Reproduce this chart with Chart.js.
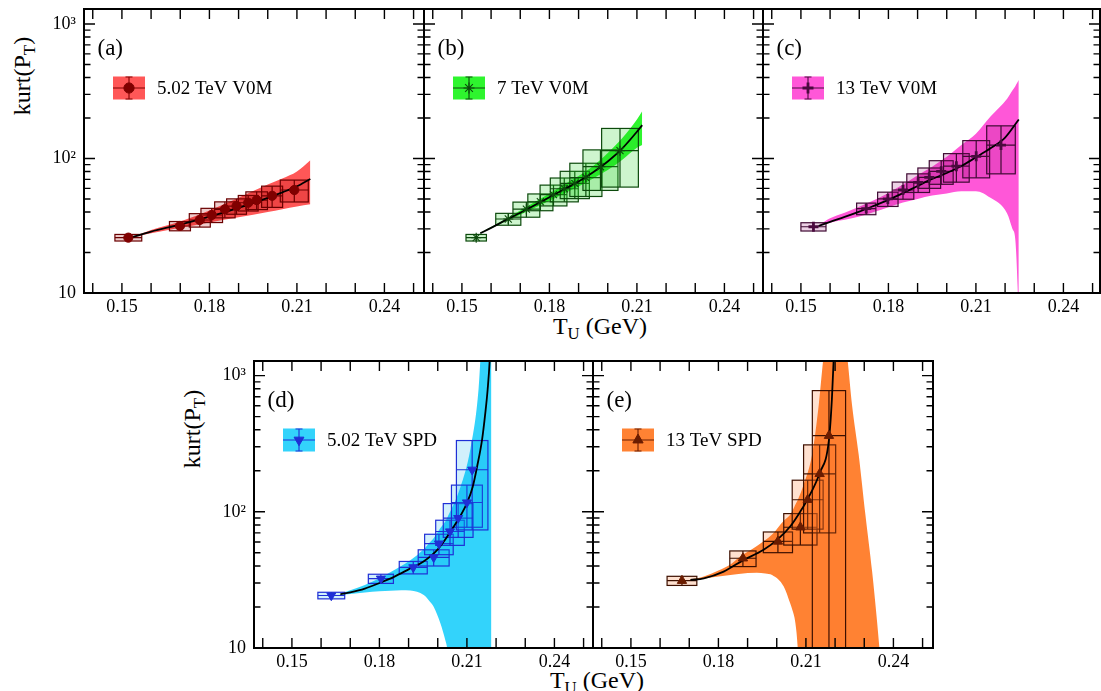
<!DOCTYPE html>
<html><head><meta charset="utf-8">
<script src="https://cdn.jsdelivr.net/npm/chart.js@4.4.0/dist/chart.umd.min.js"></script>
<style>
html,body{margin:0;padding:0;background:#fff;}
body{width:1101px;height:691px;position:relative;overflow:hidden;font-family:'Liberation Serif','Times New Roman',serif;}
canvas{position:absolute;}
.t{position:absolute;font-size:24px;color:#000;white-space:nowrap;line-height:1;}
.t sub{font-size:70%;vertical-align:baseline;position:relative;top:0.32em;}
</style></head><body>
<div class="t" style="left:22px;top:76px;transform:translate(-50%,-50%) rotate(-90deg);">kurt(P<sub>T</sub>)</div>
<div class="t" style="left:192px;top:429px;transform:translate(-50%,-50%) rotate(-90deg);">kurt(P<sub>T</sub>)</div>
<div class="t" style="left:600px;top:326px;transform:translate(-50%,-50%);">T<sub>U</sub> (GeV)</div>
<div class="t" style="left:597px;top:680px;transform:translate(-50%,-50%);">T<sub>U</sub> (GeV)</div>
<script>
// ---------------- data ----------------
const xTickLabels = [0.15, 0.18, 0.21, 0.24];
const xTickMarks = [0.14, 0.15, 0.16, 0.17, 0.18, 0.19, 0.20, 0.21, 0.22, 0.23, 0.24, 0.25];
const yTickLabels = [10, 100, 1000];
const yTickText = ['10', '10\u00B2', '10\u00B3'];

// (a) 5.02 TeV V0M
const aX = [0.1522, 0.1699, 0.1767, 0.1808, 0.1853, 0.1893, 0.1933, 0.1962, 0.2015, 0.2091];
const aY = [25.8, 31.5, 34.9, 38.0, 41.9, 44.3, 46.9, 49.1, 52.8, 58.3];
const aSysX = [0.0046, 0.0036, 0.0036, 0.0037, 0.0035, 0.0034, 0.0034, 0.0037, 0.0036, 0.0048];
const aSysY = [1.45, 2.5, 4.0, 4.6, 5.7, 5.8, 6.2, 7.4, 9.5, 10.8];
const aCurveX = [0.1535, 0.16, 0.17, 0.18, 0.19, 0.20, 0.205, 0.21, 0.2146];
const aCurveY = [26.0, 28.6, 32.3, 37.0, 43.0, 51.0, 56.0, 62.0, 70.5];
const aBandX = [0.1535, 0.16, 0.17, 0.18, 0.19, 0.20, 0.205, 0.21, 0.2146];
const aBandUp = [26.1, 29.4, 34.0, 41.0, 51.0, 64.0, 71.0, 80.0, 97.0];
const aBandLo = [25.9, 27.8, 30.5, 33.5, 36.5, 40.0, 42.0, 44.0, 45.6];

// (b) 7 TeV V0M
const bX = [0.1549, 0.1659, 0.1721, 0.1769, 0.1814, 0.1851, 0.1887, 0.1925, 0.1975, 0.2042];
const bY = [25.8, 35.5, 42.0, 47.7, 53.9, 59.6, 65.3, 72.2, 86.9, 114.3];
const bSysX = [0.0035, 0.0043, 0.0046, 0.0043, 0.0046, 0.0048, 0.0050, 0.0055, 0.0060, 0.0063];
const bSysY = [1.45, 3.6, 5.4, 6.8, 9.5, 12, 15, 20, 29, 53];
const bCurveX = [0.1563, 0.16, 0.165, 0.17, 0.175, 0.18, 0.185, 0.19, 0.195, 0.20, 0.205, 0.21, 0.2118];
const bCurveY = [27.8, 30.5, 34.8, 39.5, 45.0, 51.5, 59.0, 67.5, 79.0, 95.0, 119, 158, 177];
const bBandX = [0.1563, 0.165, 0.17, 0.175, 0.18, 0.185, 0.19, 0.195, 0.20, 0.205, 0.21, 0.2118];
const bBandUp = [28.0, 35.5, 41.0, 47.5, 55.0, 64.0, 74.0, 88.0, 110, 142, 195, 225];
const bBandLo = [27.6, 34.2, 38.2, 43.0, 48.5, 55.0, 62.0, 71.0, 82.0, 98.0, 120, 126];

// (c) 13 TeV V0M
const cX = [0.1543, 0.1724, 0.1798, 0.1850, 0.1902, 0.1940, 0.1981, 0.2033, 0.2101, 0.2186];
const cY = [31.1, 42.4, 50.1, 58.3, 66.4, 72.5, 80.3, 87.7, 103.8, 125.9];
const cSysX = [0.0043, 0.0033, 0.0035, 0.0037, 0.0039, 0.0039, 0.0041, 0.0044, 0.0046, 0.0049];
const cSysY = [2.2, 4.2, 6.1, 8.5, 10.5, 12.5, 16, 21, 32, 49];
const cCurveX = [0.156, 0.16, 0.165, 0.17, 0.175, 0.18, 0.185, 0.19, 0.195, 0.20, 0.205, 0.21, 0.215, 0.22, 0.2247];
const cCurveY = [31.5, 33.8, 36.8, 40.3, 44.5, 49.3, 55.3, 62.5, 70.5, 78.0, 88.0, 102, 119, 143, 195];
const cBandX = [0.156, 0.16, 0.165, 0.17, 0.175, 0.18, 0.185, 0.19, 0.195, 0.20, 0.205, 0.21, 0.215, 0.2207, 0.2225, 0.2235, 0.2243, 0.2247];
const cBandUp = [31.7, 35.9, 39.5, 43.8, 49.0, 55.5, 64.0, 75.0, 87.0, 103, 126, 153, 205, 278, 320, 345, 370, 383];
const cBandLo = [31.3, 33.3, 35.0, 37.0, 40.0, 43.5, 47.0, 50.0, 53.0, 55.0, 57.0, 57.2, 51.0, 39.0, 30.0, 25.0, 11.0, 5.0];

// (d) 5.02 TeV SPD
const dX = [0.1635, 0.1805, 0.1916, 0.1986, 0.2004, 0.2042, 0.2070, 0.2100, 0.2118];
const dY = [24.3, 32.3, 39.1, 46.3, 58.4, 71.7, 89.9, 117, 203.6];
const dSysX = [0.0046, 0.0043, 0.0048, 0.0053, 0.0049, 0.0049, 0.0051, 0.0053, 0.0054];
const dSysY = [1.35, 2.5, 4.1, 6.3, 10, 15, 25, 40, 130];
const dCurveX = [0.1666, 0.17, 0.175, 0.18, 0.185, 0.19, 0.195, 0.20, 0.205, 0.21, 0.212, 0.2135, 0.2152, 0.2163, 0.2171, 0.2178, 0.2183];
const dCurveY = [24.8, 25.6, 27.3, 30.0, 33.3, 37.8, 43.0, 53.0, 75.0, 116, 153, 215, 339, 530, 787, 1290, 2500];
const dBandX = [0.1666, 0.17, 0.175, 0.18, 0.1875, 0.1906, 0.1952, 0.1974, 0.1986, 0.2009, 0.2026, 0.2032, 0.2077, 0.2112, 0.2140, 0.2146, 0.2160, 0.2184];
const dBandUp = [25.0, 26.5, 29.0, 32.5, 40.0, 44.0, 53.0, 60.0, 64.0, 76.0, 85.0, 90.0, 150, 290, 800, 1300, 5000, 5000];
const dBandLo = [24.6, 24.9, 25.6, 26.1, 26.6, 26.4, 24.5, 21.8, 20.1, 15.2, 11.4, 10.0, 1, 1, 1, 1, 1, 1];

// (e) 13 TeV SPD
const eX = [0.1675, 0.1884, 0.2004, 0.2081, 0.2106, 0.2147, 0.2179];
const eY = [31.2, 45.6, 60.6, 77, 122.6, 190, 362];
const eSysX = [0.0051, 0.0045, 0.0050, 0.0057, 0.0053, 0.0055, 0.0057];
const eSysY = [2.4, 6, 10.5, 20, 48, 120, 414];
const eCurveX = [0.1704, 0.175, 0.1818, 0.1884, 0.1955, 0.2004, 0.2046, 0.2081, 0.2106, 0.2147, 0.2179, 0.2189, 0.2195, 0.2200];
const eCurveY = [31.6, 32.5, 36.4, 44.0, 52.6, 63.0, 78.0, 100.6, 124, 192, 338, 667, 1290, 2500];
const eBandX = [0.1704, 0.175, 0.18, 0.1841, 0.1869, 0.1932, 0.1961, 0.1984, 0.2024, 0.2046, 0.2052, 0.2064, 0.2072, 0.2092, 0.2121, 0.2144, 0.2161, 0.22, 0.2241, 0.2258, 0.2281, 0.2304, 0.2327, 0.2344, 0.2352, 0.2365];
const eBandUp = [31.8, 33.5, 37.0, 41.0, 46.0, 56.0, 62.0, 68.0, 86.0, 95.0, 100, 113, 122, 158, 262, 612, 1420, 6000, 1420, 612, 262, 95, 36.4, 15.6, 10, 5];
const eBandLo = [31.4, 32.3, 33.5, 34.4, 35.0, 35.7, 35.3, 34.4, 28.3, 21.3, 19.5, 15.2, 10, 1, 1, 1, 1, 1, 1, 1, 1, 1, 1, 1, 1, 1];

// ---------------- panels (layout + style) ----------------
const panels = [
  {tag:'(a)', name:'5.02 TeV V0M', left:84, top:9, w:340, h:284, yMax:1293, yAxis:true,
   X:aX, Y:aY, SX:aSysX, SY:aSysY, CX:aCurveX, CY:aCurveY, BX:aBandX, BU:aBandUp, BL:aBandLo,
   band:'#ff5757', boxFill:'rgba(170,0,0,0.20)', boxLine:'#6a0000', mark:'#800000', style:'circle', r:4.6, rot:0, bw:1},
  {tag:'(b)', name:'7 TeV V0M', left:424, top:9, w:339, h:284, yMax:1293, yAxis:false,
   X:bX, Y:bY, SX:bSysX, SY:bSysY, CX:bCurveX, CY:bCurveY, BX:bBandX, BU:bBandUp, BL:bBandLo,
   band:'#2ef52e', boxFill:'rgba(30,210,30,0.22)', boxLine:'#0c4a0c', mark:'#0c4a0c', style:'star', r:5, rot:0, bw:1.1},
  {tag:'(c)', name:'13 TeV V0M', left:763, top:9, w:337, h:284, yMax:1293, yAxis:false,
   X:cX, Y:cY, SX:cSysX, SY:cSysY, CX:cCurveX, CY:cCurveY, BX:cBandX, BU:cBandUp, BL:cBandLo,
   band:'#ff57d8', boxFill:'rgba(150,0,110,0.18)', boxLine:'#3f0a33', mark:'#4a0a3e', style:'cross', r:5, rot:0, bw:2.8},
  {tag:'(d)', name:'5.02 TeV SPD', left:254, top:361, w:339, h:287, yMax:1280, yAxis:true,
   X:dX, Y:dY, SX:dSysX, SY:dSysY, CX:dCurveX, CY:dCurveY, BX:dBandX, BU:dBandUp, BL:dBandLo,
   band:'#33d3fb', boxFill:'rgba(0,170,240,0.18)', boxLine:'#1f2fd6', mark:'#1f2fd6', style:'triangle', r:5.2, rot:180, bw:1},
  {tag:'(e)', name:'13 TeV SPD', left:593, top:361, w:340, h:287, yMax:1280, yAxis:false,
   X:eX, Y:eY, SX:eSysX, SY:eSysY, CX:eCurveX, CY:eCurveY, BX:eBandX, BU:eBandUp, BL:eBandLo,
   band:'#ff8233', boxFill:'rgba(255,120,40,0.22)', boxLine:'#3d1000', mark:'#6b1c00', style:'triangle', r:5.4, rot:0, bw:1}
];

const FONT = "'Liberation Serif', 'Times New Roman', serif";
Chart.defaults.font.family = FONT;

function drawBoxes(chart, p) {
  const {ctx, chartArea: a} = chart;
  const xs = chart.scales.x, ys = chart.scales.y;
  ctx.save();
  ctx.beginPath(); ctx.rect(a.left, a.top, a.right - a.left, a.bottom - a.top); ctx.clip();
  for (let i = 0; i < p.X.length; i++) {
    const x0 = xs.getPixelForValue(p.X[i] - p.SX[i]);
    const x1 = xs.getPixelForValue(p.X[i] + p.SX[i]);
    const xc = xs.getPixelForValue(p.X[i]);
    const lo = p.Y[i] - p.SY[i];
    const y0 = lo > 0 ? ys.getPixelForValue(lo) : a.bottom + 40;
    const y1 = ys.getPixelForValue(p.Y[i] + p.SY[i]);
    const yc = ys.getPixelForValue(p.Y[i]);
    ctx.fillStyle = p.boxFill;
    ctx.fillRect(x0, y1, x1 - x0, y0 - y1);
    ctx.strokeStyle = p.boxLine; ctx.lineWidth = 1.2;
    ctx.strokeRect(x0, y1, x1 - x0, y0 - y1);
    ctx.beginPath();
    ctx.moveTo(x0, yc); ctx.lineTo(x1, yc);
    ctx.moveTo(xc, y0); ctx.lineTo(xc, y1);
    ctx.stroke();
  }
  ctx.restore();
}

function drawFrame(chart, p) {
  const {ctx, chartArea: a} = chart;
  const xs = chart.scales.x, ys = chart.scales.y;
  ctx.save();
  ctx.strokeStyle = '#000'; ctx.lineWidth = 1.4;
  ctx.beginPath();
  xTickMarks.forEach(v => {
    const px = xs.getPixelForValue(v);
    if (px < a.left + 1 || px > a.right - 1) return;
    ctx.moveTo(px, a.bottom); ctx.lineTo(px, a.bottom - 10);
    ctx.moveTo(px, a.top); ctx.lineTo(px, a.top + 10);
  });
  [10, 100, 1000].forEach(d => {
    for (let m = 1; m <= 9; m++) {
      const v = d * m;
      if (v < 10 || v > p.yMax) continue;
      const py = ys.getPixelForValue(v);
      const len = m === 1 ? 11 : 6.5;
      ctx.moveTo(a.left, py); ctx.lineTo(a.left + len, py);
      ctx.moveTo(a.right, py); ctx.lineTo(a.right - len, py);
    }
  });
  ctx.stroke();
  ctx.lineWidth = 2;
  ctx.strokeRect(a.left, a.top, a.right - a.left, a.bottom - a.top);
  ctx.restore();
}

function drawLegend(chart, p) {
  const {ctx, chartArea: a} = chart;
  ctx.save();
  const lx = a.left + 29, ly = a.top + 67.5, lw = 32, lh = 23;
  ctx.fillStyle = p.band;
  ctx.fillRect(lx, ly, lw, lh);
  const cx = lx + lw / 2, cy = ly + lh / 2;
  ctx.strokeStyle = p.mark; ctx.lineWidth = 1.1;
  ctx.beginPath();
  ctx.moveTo(lx, cy); ctx.lineTo(lx + lw, cy);
  ctx.moveTo(cx, cy - 11); ctx.lineTo(cx, cy + 11);
  ctx.moveTo(cx - 3.5, cy - 11); ctx.lineTo(cx + 3.5, cy - 11);
  ctx.moveTo(cx - 3.5, cy + 11); ctx.lineTo(cx + 3.5, cy + 11);
  ctx.stroke();
  ctx.fillStyle = p.mark; ctx.strokeStyle = p.mark; ctx.lineWidth = p.bw;
  Chart.helpers.drawPoint(ctx, {pointStyle: p.style, rotation: p.rot, radius: p.r + 0.5, borderWidth: p.bw}, cx, cy);
  ctx.fillStyle = '#000';
  ctx.textBaseline = 'middle'; ctx.textAlign = 'left';
  ctx.font = '19px ' + FONT;
  ctx.fillText(p.name, lx + 44, cy + 1);
  ctx.font = '23px ' + FONT;
  ctx.fillText(p.tag, a.left + 13.5, a.top + 40);
  ctx.restore();
}

function panelPlugin(p) {
  return {
    id: 'panel' + p.tag.replace(/\W/g, ''),
    beforeDatasetDraw(chart, args) { if (args.index === 2) drawBoxes(chart, p); },
    afterDraw(chart) { drawFrame(chart, p); drawLegend(chart, p); }
  };
}

function pts(xa, ya) { return xa.map((x, i) => ({x: x, y: ya[i]})); }

panels.forEach(p => {
  const P = 30, yW = p.yAxis ? 60 : 0, xH = 30;
  const W = P + yW + p.w + P, H = P + p.h + xH + P;
  const cv = document.createElement('canvas');
  cv.width = W; cv.height = H;
  cv.style.width = W + 'px'; cv.style.height = H + 'px';
  cv.style.left = (p.left - P - yW) + 'px'; cv.style.top = (p.top - P) + 'px';
  document.body.appendChild(cv);
  const xmax = 0.137 + p.w * 0.03 / 87.5;
  new Chart(cv, {
    type: 'line',
    data: {datasets: [
      {data: pts(p.BX, p.BU), fill: '+1', backgroundColor: p.band, borderColor: 'rgba(0,0,0,0)', borderWidth: 0,
       pointRadius: 0, cubicInterpolationMode: 'monotone', order: 10},
      {data: pts(p.BX, p.BL), fill: false, borderColor: 'rgba(0,0,0,0)', borderWidth: 0,
       pointRadius: 0, cubicInterpolationMode: 'monotone', order: 11},
      {data: pts(p.CX, p.CY), fill: false, borderColor: '#000', borderWidth: 1.8,
       pointRadius: 0, cubicInterpolationMode: 'monotone', order: 1},
      {data: pts(p.X, p.Y), showLine: false, fill: false, pointStyle: p.style, pointRadius: p.r,
       pointRotation: p.rot, backgroundColor: p.mark, borderColor: p.mark, pointBorderWidth: p.bw, order: 0}
    ]},
    options: {
      responsive: false, animation: false, devicePixelRatio: 1, events: [],
      layout: {padding: {left: P, right: P, top: P, bottom: P}},
      plugins: {legend: {display: false}, tooltip: {enabled: false}},
      scales: {
        x: {type: 'linear', min: 0.137, max: xmax,
            grid: {display: false, drawTicks: false}, border: {display: false},
            afterBuildTicks: s => { s.ticks = xTickLabels.map(v => ({value: v})); },
            afterFit: s => { s.height = xH; },
            ticks: {callback: v => Number(v).toFixed(2), font: {family: FONT, size: 18}, color: '#000',
                    padding: 3, maxRotation: 0, autoSkip: false}},
        y: {type: 'logarithmic', min: 10, max: p.yMax, display: p.yAxis,
            grid: {display: false, drawTicks: false}, border: {display: false},
            afterBuildTicks: s => { s.ticks = yTickLabels.map(v => ({value: v})); },
            afterFit: s => { if (p.yAxis) s.width = yW; },
            ticks: {callback: v => yTickText[yTickLabels.indexOf(v)], font: {family: FONT, size: 18}, color: '#000',
                    padding: 8, autoSkip: false}}
      }
    },
    plugins: [panelPlugin(p)]
  });
});
</script>
</body></html>
